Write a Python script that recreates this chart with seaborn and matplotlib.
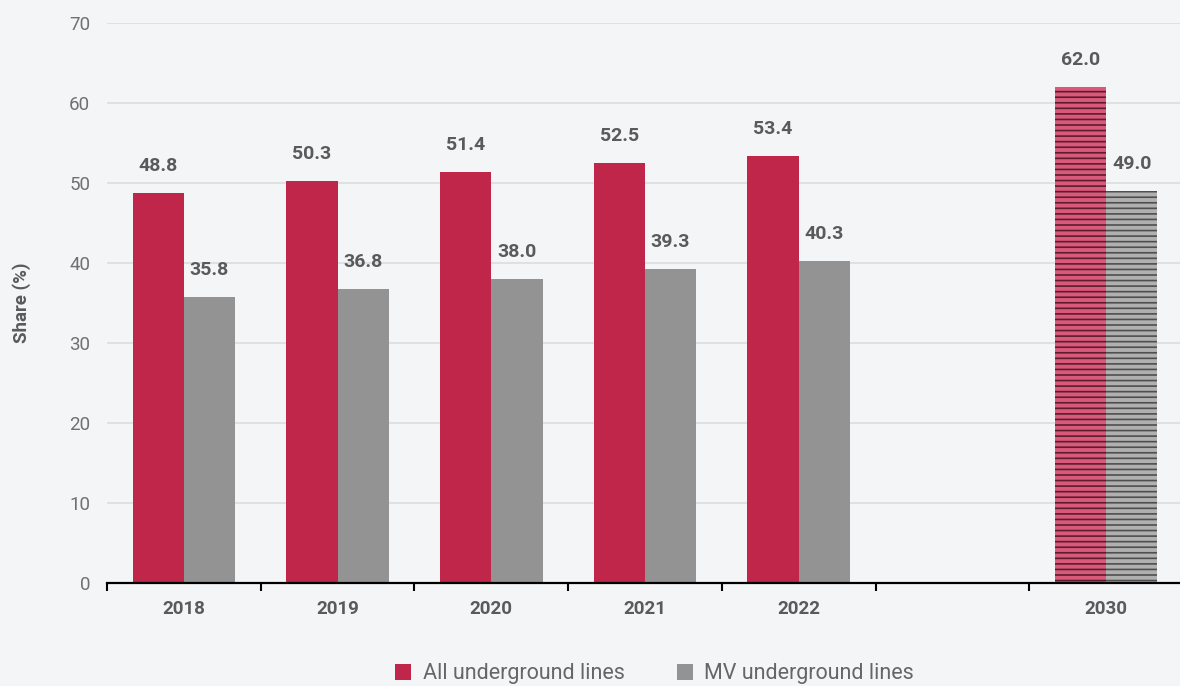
import matplotlib.pyplot as plt
import pandas as pd
import seaborn as sns

years = ["2018", "2019", "2020", "2021", "2022", "", "2030"]
all_lines = [48.8, 50.3, 51.4, 52.5, 53.4, None, 62.0]
mv_lines = [35.8, 36.8, 38.0, 39.3, 40.3, None, 49.0]
series = ["All underground lines", "MV underground lines"]

RED = "#bf2649"
GRAY = "#939393"
BG = "#f4f5f6"
TEXT = "#5a5a5a"

rows = []
for y, a, m in zip(years, all_lines, mv_lines):
    if a is not None:
        rows.append({"year": y, "series": series[0], "share": a})
        rows.append({"year": y, "series": series[1], "share": m})
df = pd.DataFrame(rows)

sns.set_theme(style="white")
plt.rcParams["font.family"] = ["Roboto", "DejaVu Sans"]
plt.rcParams["hatch.linewidth"] = 1.2

fig = plt.figure(figsize=(11.8, 6.86), dpi=100, facecolor=BG)
ax = fig.add_axes([107 / 1180, 1 - 583 / 686, 1 - 107 / 1180, (583 - 23) / 686])
ax.set_facecolor(BG)

sns.barplot(data=df, x="year", y="share", hue="series", order=years,
            hue_order=series, palette=[RED, GRAY], width=0.667,
            saturation=1, linewidth=0, ax=ax, legend=False)

# hatch the 2030 target bars
for p in ax.patches:
    if p.get_x() > 5:
        if p.get_facecolor()[0] > 0.6:
            p.set_facecolor("#d8597a")
            p.set_edgecolor("#5e1c2c")
        else:
            p.set_facecolor("#b0b0b0")
            p.set_edgecolor("#4f4f4f")
        p.set_hatch("---")
        p.set_linewidth(0)

# value labels
for p in ax.patches:
    h = p.get_height()
    if h > 0:
        ax.annotate(f"{h:.1f}", (p.get_x() + p.get_width() / 2, h),
                    xytext=(0, 13), textcoords="offset points",
                    ha="center", va="bottom", fontsize=14,
                    fontweight="bold", color=TEXT)

ax.set_ylim(0, 70)
ax.set_xlim(-0.5, -0.5 + (1180 - 107) / 153.7)
ax.set_yticks(range(0, 71, 10))
ax.yaxis.grid(True, color="#d9dadb", linewidth=1.1)
ax.set_axisbelow(True)
ax.tick_params(axis="y", length=0, pad=12, labelsize=13.5, labelcolor="#707070")

ax.set_xticks([i - 0.5 for i in range(7)])
ax.set_xticklabels([])
ax.set_xticks(range(7), minor=True)
ax.set_xticklabels(years, minor=True, fontsize=13.5, fontweight="bold", color=TEXT)
ax.tick_params(axis="x", which="major", bottom=True, direction="out", length=6,
               width=1.5, color="black")
ax.tick_params(axis="x", which="minor", bottom=True, length=0, pad=12)

for s in ["left", "right", "top"]:
    ax.spines[s].set_visible(False)
ax.spines["bottom"].set_color("black")
ax.spines["bottom"].set_linewidth(1.6)

ax.set_xlabel("")
ax.set_ylabel("Share (%)", fontsize=13.5, fontweight="bold", color=TEXT)
ax.yaxis.set_label_coords(-(107 - 31) / 1073, 0.5)

handles = [plt.Line2D([], [], marker="s", linestyle="", markersize=12,
                      markerfacecolor=c, markeredgewidth=0) for c in [RED, GRAY]]
fig.legend(handles, series, loc="center", bbox_to_anchor=(0.549, 1 - 674 / 686),
           ncol=2, frameon=False, fontsize=15.5, handletextpad=-0.1,
           columnspacing=1.8, labelcolor="#666666")

fig.savefig("out.png", dpi=100, facecolor=BG)
